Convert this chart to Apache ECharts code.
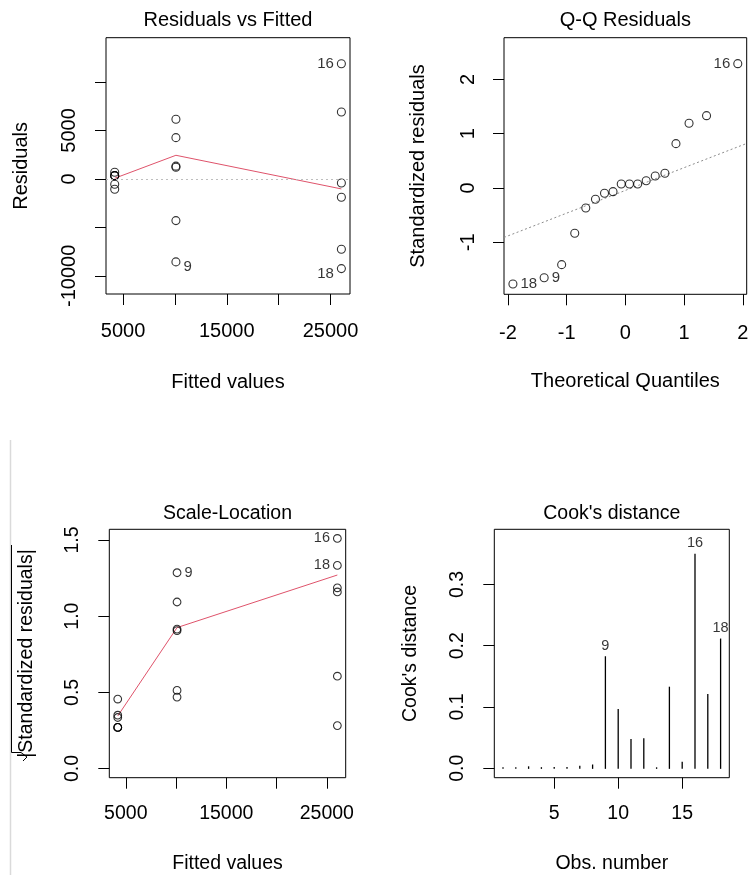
<!DOCTYPE html>
<html>
<head>
<meta charset="utf-8">
<title>lm diagnostics</title>
<script src="https://cdn.jsdelivr.net/npm/echarts@6.0.0/dist/echarts.min.js"></script>
<style>
html, body { margin: 0; padding: 0; background: #fff; }
#chart { width: 749px; height: 875px; }
</style>
</head>
<body>
<div id="chart"></div>
<script>
// ---- data (obs 1..18) ----
var obsNum = [1, 2, 3, 4, 5, 6, 7, 8, 9, 10, 11, 12, 13, 14, 15, 16, 17, 18];
var fitted = [4200, 4200, 4200, 4200, 4200, 4200, 10100, 10100, 10100, 10100, 10100, 10100, 26050, 26050, 26050, 26050, 26050, 26050];
var residuals = [340, 690, -546, 340, -1062, 340, 1200, 1320, -8557, 6155, -4300, 4260, -412, -7250, -1890, 11890, 6900, -9250];
var sqrtAbsStdRes = [0.27, 0.35, 0.335, 0.27, 0.456, 0.27, 0.469, 0.513, 1.285, 1.093, 0.915, 0.905, 0.282, 1.186, 0.606, 1.510, 1.159, 1.333];
var cooksD = [0.0004, 0.0006, 0.002, 0.0006, 0.001, 0.0008, 0.003, 0.005, 0.1817, 0.0956, 0.0465, 0.048, 0.0004, 0.132, 0.0093, 0.349, 0.120, 0.2106];

// Q-Q: theoretical quantiles, sorted standardized residuals, and which obs each one is
var qqTheo = [-1.915, -1.383, -1.085, -0.862, -0.674, -0.509, -0.355, -0.210, -0.070, 0.070, 0.210, 0.355, 0.509, 0.674, 0.862, 1.085, 1.383, 1.915];
var qqSample = [-1.767, -1.651, -1.411, -0.834, -0.368, -0.208, -0.098, -0.068, 0.074, 0.074, 0.074, 0.134, 0.221, 0.270, 0.816, 1.190, 1.331, 2.288];
var qqObs = [18, 9, 14, 11, 15, 5, 3, 13, 1, 4, 6, 2, 7, 8, 12, 10, 17, 16];
var qqLineX = [-2.067, 2.067];
var qqLineY = [-0.91, 0.82];

var labelledObs = [9, 16, 18];

// smoother lines (red)
var residSmoothX = [4200, 10100, 26050];
var residSmoothY = [70, 2440, -1030];
var scaleSmoothX = [4200, 10100, 26050];
var scaleSmoothY = [0.345, 0.925, 1.27];

// tick marks / tick labels
var fittedTicks = [5000, 10000, 15000, 20000, 25000];
var fittedTickLabels = [5000, 15000, 25000];
var residTicks = [-10000, -5000, 0, 5000, 10000];
var residTickLabels = [-10000, 0, 5000];
var qqXTicks = [-2, -1, 0, 1, 2];
var qqYTicks = [-1, 0, 1, 2];
var scaleYTicks = [0, 0.5, 1, 1.5];
var cookXTicks = [5, 10, 15];
var cookYTicks = [0, 0.1, 0.2, 0.3];

// ---- helpers ----
var FONT = "'Liberation Sans', Arial, sans-serif";
var RED = '#DF536B';

function pairs(xs, ys) {
	return xs.map(function (x, i) { return [x, ys[i]]; });
}

// scatter points, id labels to the right if x below mid of range, else left (like plot.lm)
function pointData(xs, ys, ids, fs, dy) {
	var mid = (Math.min.apply(null, xs) + Math.max.apply(null, xs)) / 2;
	return xs.map(function (x, i) {
		var id = ids[i];
		var item = { value: [x, ys[i]] };
		if (labelledObs.indexOf(id) >= 0) {
			item.label = {
				show: true,
				formatter: String(id),
				position: x < mid ? 'right' : 'left',
				distance: 3,
				fontSize: fs,
				fontFamily: FONT,
				color: '#000',
				offset: [0, (dy && dy[id]) || 0]
			};
		}
		return item;
	});
}

function plainNum(v) { return String(v); }
function oneDec(v) { return v.toFixed(1); }

function axisCfg(isY, g, min, max, ticks, labels, fmt, name, nameGap, margin, fs) {
	return {
		type: 'value',
		gridIndex: g,
		min: min,
		max: max,
		position: isY ? 'left' : 'bottom',
		axisLine: { show: false, onZero: false },
		splitLine: { show: false },
		axisTick: { show: true, inside: false, length: 11, customValues: ticks, lineStyle: { color: '#000', width: 1 } },
		axisLabel: {
			show: true, customValues: labels, margin: margin, rotate: isY ? 90 : 0,
			fontSize: fs, fontFamily: FONT, color: '#000', formatter: fmt
		},
		name: name,
		nameLocation: 'middle',
		nameGap: nameGap,
		nameMoveOverlap: false,
		nameTextStyle: { fontSize: fs, fontFamily: FONT, color: '#000' }
	};
}

function gridCfg(l, t, w, h) {
	return {
		left: l, top: t, width: w, height: h, show: true,
		borderColor: '#000', borderWidth: 1, backgroundColor: 'transparent',
		containLabel: false, outerBoundsMode: 'none'
	};
}

function titleCfg(text, cx, cy, fs) {
	return {
		text: text, left: cx, top: cy, textAlign: 'center', textVerticalAlign: 'middle', padding: 0,
		textStyle: { fontSize: fs, fontWeight: 'normal', fontFamily: FONT, color: '#000' }
	};
}

var circleStyle = { color: 'rgba(0,0,0,0)', borderColor: '#000', borderWidth: 1.1 };

var cookLabelPts = labelledObs.map(function (id) { return [id, cooksD[id - 1]]; });

var chart = echarts.init(document.getElementById('chart'), null, { renderer: 'canvas' });

var option = {
	animation: false,
	backgroundColor: '#fff',
	title: [
		titleCfg('Residuals vs Fitted', 228, 20.7, 20),
		titleCfg('Q-Q Residuals', 625.3, 20.7, 20),
		titleCfg('Scale-Location', 227.5, 513.3, 19.5),
		titleCfg("Cook's distance", 611.8, 513.3, 19.5)
	],
	grid: [
		gridCfg(106, 37.7, 244, 256.3),
		gridCfg(504, 37.7, 242.7, 256.6),
		gridCfg(109.3, 529.3, 236.4, 248.4),
		gridCfg(494.3, 529.3, 235, 248.4)
	],
	xAxis: [
		axisCfg(false, 0, 3360, 26880, fittedTicks, fittedTickLabels, plainNum, 'Fitted values', 78.7, 27.7, 20),
		axisCfg(false, 1, -2.067, 2.067, qqXTicks, qqXTicks, plainNum, 'Theoretical Quantiles', 77.4, 29, 20),
		axisCfg(false, 2, 3360, 26880, fittedTicks, fittedTickLabels, plainNum, 'Fitted values', 75.9, 25.9, 19.5),
		axisCfg(false, 3, 0.32, 18.68, cookXTicks, cookXTicks, plainNum, 'Obs. number', 75.9, 25.9, 19.5)
	],
	yAxis: [
		axisCfg(true, 0, -11870, 14570, residTicks, residTickLabels, plainNum, 'Residuals', 74.7, 26.5, 20),
		axisCfg(true, 1, -1.957, 2.766, qqYTicks, qqYTicks, plainNum, 'Standardized residuals', 76, 25.7, 20),
		axisCfg(true, 2, -0.06, 1.57, scaleYTicks, scaleYTicks, oneDec, '|Standardized residuals|', 72.8, 26.9, 19.5),
		axisCfg(true, 3, -0.0155, 0.39, cookYTicks, cookYTicks, oneDec, "Cook's distance", 73.5, 26.3, 19.5)
	],
	series: [
		// Residuals vs Fitted
		{
			type: 'line', xAxisIndex: 0, yAxisIndex: 0,
			data: pairs(residSmoothX, residSmoothY),
			symbol: 'none', lineStyle: { color: RED, width: 1 }, z: 3,
			markLine: {
				silent: true, symbol: ['none', 'none'], label: { show: false },
				lineStyle: { color: '#bebebe', type: [2, 3], width: 1 },
				data: [{ yAxis: 0 }]
			}
		},
		{
			type: 'scatter', xAxisIndex: 0, yAxisIndex: 0, symbol: 'circle', symbolSize: 8,
			itemStyle: circleStyle, z: 4,
			data: pointData(fitted, residuals, obsNum, 15, { 9: 5, 18: 5 })
		},
		// Q-Q
		{
			type: 'line', xAxisIndex: 1, yAxisIndex: 1,
			data: pairs(qqLineX, qqLineY),
			symbol: 'none', lineStyle: { color: '#8c8c8c', type: [2, 2.5], width: 1 }, z: 3
		},
		{
			type: 'scatter', xAxisIndex: 1, yAxisIndex: 1, symbol: 'circle', symbolSize: 8,
			itemStyle: circleStyle, z: 4,
			data: pointData(qqTheo, qqSample, qqObs, 15)
		},
		// Scale-Location
		{
			type: 'line', xAxisIndex: 2, yAxisIndex: 2,
			data: pairs(scaleSmoothX, scaleSmoothY),
			symbol: 'none', lineStyle: { color: RED, width: 1 }, z: 3
		},
		{
			type: 'scatter', xAxisIndex: 2, yAxisIndex: 2, symbol: 'circle', symbolSize: 7.7,
			itemStyle: circleStyle, z: 4,
			data: pointData(fitted, sqrtAbsStdRes, obsNum, 14.5)
		},
		// Cook's distance, drawn as type="h" spikes
		{
			type: 'custom', xAxisIndex: 3, yAxisIndex: 3,
			data: pairs(obsNum, cooksD),
			renderItem: function (params, api) {
				var p0 = api.coord([api.value(0), 0]);
				var p1 = api.coord([api.value(0), api.value(1)]);
				return {
					type: 'line',
					shape: { x1: p0[0], y1: p0[1], x2: p1[0], y2: p1[1] },
					style: { stroke: '#000', lineWidth: 1.3, lineCap: 'square' }
				};
			}
		},
		{
			type: 'scatter', xAxisIndex: 3, yAxisIndex: 3, symbolSize: 1,
			itemStyle: { color: 'rgba(0,0,0,0)' },
			label: {
				show: true, position: 'top', distance: 3,
				fontSize: 14.5, fontFamily: FONT, color: '#000',
				formatter: function (p) { return String(p.value[0]); }
			},
			data: cookLabelPts
		}
	],
	graphic: [
		// faint border line at left of lower half
		{ type: 'line', shape: { x1: 10.5, y1: 440, x2: 10.5, y2: 875 }, style: { stroke: '#dadada', lineWidth: 1.5 }, silent: true },
		// radical sign over the rotated |Standardized residuals| label
		{
			type: 'polyline', silent: true,
			shape: { points: [[11.5, 545], [11.5, 752.5], [21, 752.5], [27, 757], [23, 761]] },
			style: { stroke: '#000', lineWidth: 1, fill: null }
		}
	]
};

chart.setOption(option);
</script>
</body>
</html>
